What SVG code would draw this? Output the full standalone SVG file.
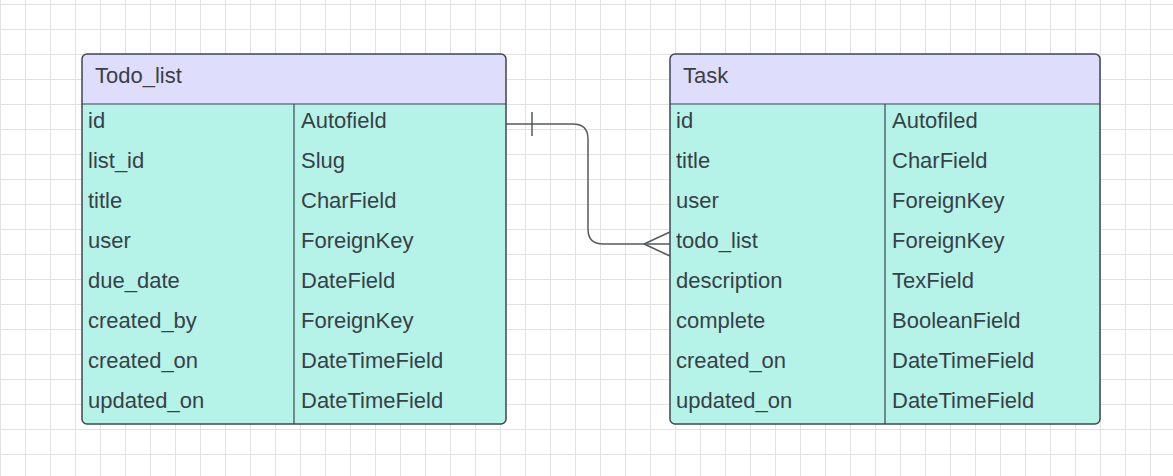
<svg xmlns="http://www.w3.org/2000/svg" width="1173" height="476" viewBox="0 0 1173 476">
<style>
.hdr{fill:#dedefc;}
.body{fill:#b5f3e9;}
.frame{fill:none;stroke:#3f4550;stroke-width:1.5;}
.line{stroke:#3f4550;stroke-width:1.2;fill:none;}
.t{font-family:"Liberation Sans",Arial,sans-serif;font-size:22px;fill:#3a3f47;}
.conn{fill:none;stroke:#555a60;stroke-width:1.5;}
</style>
<defs>
<pattern id="grid" x="0" y="4" width="25" height="25" patternUnits="userSpaceOnUse">
<path d="M0.5 0 V25 M0 0.5 H25" stroke="#e2e2e2" stroke-width="1" fill="none"/>
</pattern>
<clipPath id="c1"><rect x="82" y="54" width="424" height="370" rx="5"/></clipPath>
<clipPath id="c2"><rect x="670" y="54" width="430" height="370" rx="5"/></clipPath>
</defs>
<rect width="1173" height="476" fill="#ffffff"/>
<rect width="1173" height="476" fill="url(#grid)"/>

<g id="connectors">
<path class="conn" d="M506 124 H573 Q588 124 588 139 V229 Q588 244 603 244 H670"/>
<path class="conn" d="M532 112 V136"/>
<path class="conn" d="M644 244 L670 232 M644 244 L670 256"/>
</g>

<g id="todo_list">
<g clip-path="url(#c1)">
<rect class="hdr" x="82" y="54" width="424" height="50"/>
<rect class="body" x="82" y="104" width="424" height="320"/>
</g>
<line class="line" x1="82" y1="104" x2="506" y2="104"/>
<line class="line" x1="294" y1="104" x2="294" y2="424"/>
<rect class="frame" x="82" y="54" width="424" height="370" rx="5"/>
<text class="t" x="95" y="83">Todo_list</text>
<text class="t" x="88" y="128">id</text><text class="t" x="301" y="128">Autofield</text>
<text class="t" x="88" y="168">list_id</text><text class="t" x="301" y="168">Slug</text>
<text class="t" x="88" y="208">title</text><text class="t" x="301" y="208">CharField</text>
<text class="t" x="88" y="248">user</text><text class="t" x="301" y="248">ForeignKey</text>
<text class="t" x="88" y="288">due_date</text><text class="t" x="301" y="288">DateField</text>
<text class="t" x="88" y="328">created_by</text><text class="t" x="301" y="328">ForeignKey</text>
<text class="t" x="88" y="368">created_on</text><text class="t" x="301" y="368">DateTimeField</text>
<text class="t" x="88" y="408">updated_on</text><text class="t" x="301" y="408">DateTimeField</text>
</g>

<g id="task">
<g clip-path="url(#c2)">
<rect class="hdr" x="670" y="54" width="430" height="50"/>
<rect class="body" x="670" y="104" width="430" height="320"/>
</g>
<line class="line" x1="670" y1="104" x2="1100" y2="104"/>
<line class="line" x1="885" y1="104" x2="885" y2="424"/>
<rect class="frame" x="670" y="54" width="430" height="370" rx="5"/>
<text class="t" x="683" y="83">Task</text>
<text class="t" x="676" y="128">id</text><text class="t" x="892" y="128">Autofiled</text>
<text class="t" x="676" y="168">title</text><text class="t" x="892" y="168">CharField</text>
<text class="t" x="676" y="208">user</text><text class="t" x="892" y="208">ForeignKey</text>
<text class="t" x="676" y="248">todo_list</text><text class="t" x="892" y="248">ForeignKey</text>
<text class="t" x="676" y="288">description</text><text class="t" x="892" y="288">TexField</text>
<text class="t" x="676" y="328">complete</text><text class="t" x="892" y="328">BooleanField</text>
<text class="t" x="676" y="368">created_on</text><text class="t" x="892" y="368">DateTimeField</text>
<text class="t" x="676" y="408">updated_on</text><text class="t" x="892" y="408">DateTimeField</text>
</g>
</svg>
